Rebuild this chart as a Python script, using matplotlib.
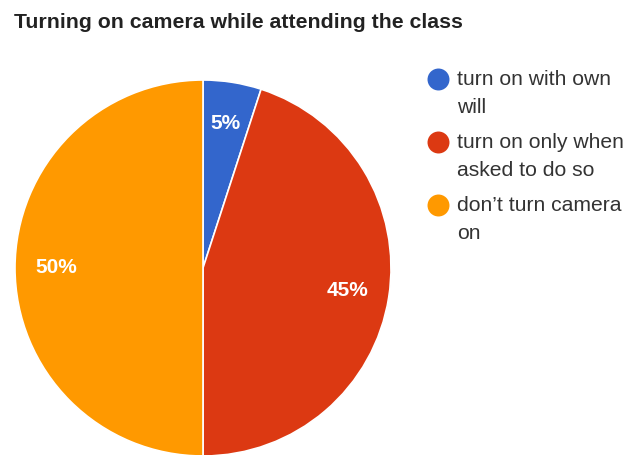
import matplotlib
matplotlib.use("Agg")
import matplotlib.pyplot as plt

plt.rcParams["font.family"] = ["Liberation Sans", "DejaVu Sans"]

TITLE = "Turning on camera while attending the class"
LABELS = [["turn on with own", "will"],
          ["turn on only when", "asked to do so"],
          ["don’t turn camera", "on"]]
SHARES = [5, 45, 50]
COLORS = ["#3366CC", "#DC3912", "#FF9900"]

W, H = 626, 455
fig = plt.figure(figsize=(W / 100, H / 100), dpi=100)
ax = fig.add_axes([0, 0, 1, 1])

# y axis runs downward (pixel-like), so startangle=-90 is 12 o'clock and
# counterclock=True sweeps clockwise on screen
wedges, texts, autotexts = ax.pie(
    SHARES, colors=COLORS, startangle=-90, counterclock=True,
    center=(203, 268), radius=188, frame=True,
    autopct="%d%%", pctdistance=0.78,
    wedgeprops=dict(edgecolor="white", linewidth=1.2),
    textprops=dict(color="white", fontsize=15, fontweight="bold"),
)
ax.set_xlim(0, W)
ax.set_ylim(H, 0)
ax.set_aspect("equal")
ax.axis("off")

ax.text(14, 28, TITLE, fontsize=15.3, fontweight="bold", color="#222222",
        ha="left", va="baseline")

# legend: dot plus two-line label
for i, (lines, col) in enumerate(zip(LABELS, COLORS)):
    y = 79 + i * 63
    ax.scatter([438], [y], s=250, color=col, zorder=3, linewidths=0)
    for j, line in enumerate(lines):
        ax.text(457, y + 6 + j * 28, line, fontsize=15.2, color="#333333",
                ha="left", va="baseline")

fig.savefig("out.png", dpi=100)
